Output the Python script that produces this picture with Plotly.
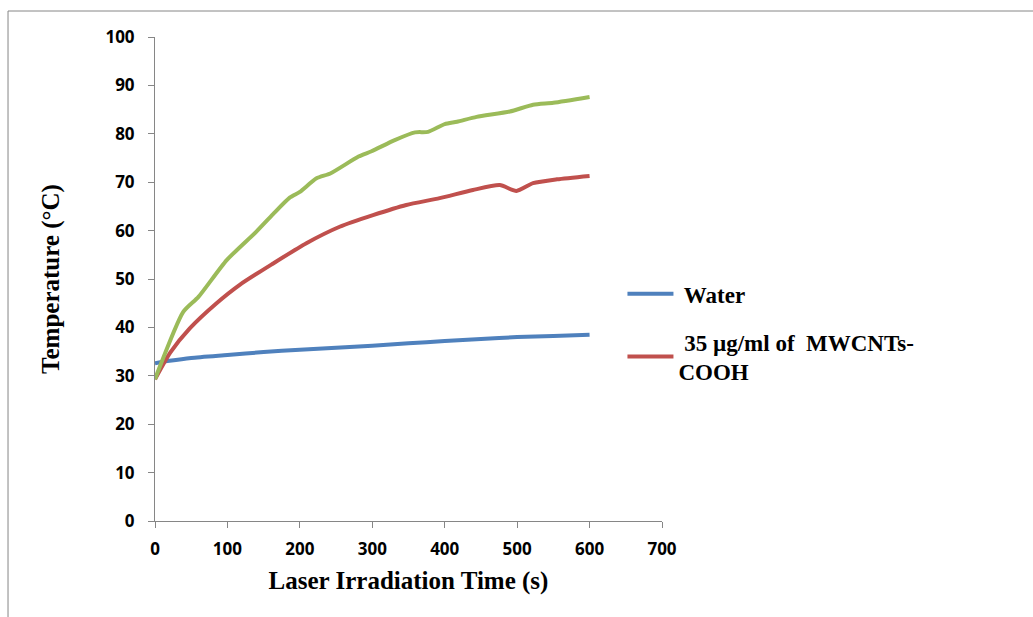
import plotly.graph_objects as go

# Time (s)
time_water = [0, 20, 50, 100, 150, 200, 250, 300, 350, 400, 450, 500, 550, 600]
temp_water = [32.6, 33.1, 33.7, 34.3, 34.9, 35.4, 35.8, 36.2, 36.7, 37.2, 37.6, 38.0, 38.2, 38.5]

time_mw = [0, 21, 48, 85, 117, 163, 209, 255, 301, 347, 393, 439, 476, 499, 522, 555, 600]
temp_mw = [29.3, 34.8, 39.8, 45.0, 48.8, 53.2, 57.4, 60.8, 63.2, 65.3, 66.7, 68.4, 69.4, 68.2, 69.8, 70.6, 71.3]

time_g = [0, 39, 60, 99, 140, 163, 186, 200, 223, 242, 281, 299, 331, 359, 377, 400, 417, 444, 490, 522, 550, 600]
temp_g = [29.3, 43.2, 46.3, 53.9, 59.8, 63.4, 66.8, 68.0, 70.8, 71.8, 75.3, 76.4, 78.7, 80.3, 80.4, 82.0, 82.5, 83.5, 84.6, 86.0, 86.4, 87.6]

x_ticks = [0, 100, 200, 300, 400, 500, 600, 700]
y_ticks = [0, 10, 20, 30, 40, 50, 60, 70, 80, 90, 100]

fig = go.Figure()
fig.add_trace(go.Scatter(x=time_water, y=temp_water, mode="lines", name=" Water",
                         line=dict(color="#4F81BD", width=4, shape="spline", smoothing=0.6),
                         legendgroup="a"))
fig.add_trace(go.Scatter(x=time_mw, y=temp_mw, mode="lines", name=" 35 µg/ml of&nbsp; MWCNTs-<br>COOH",
                         line=dict(color="#C0504D", width=4, shape="spline", smoothing=0.6),
                         legendgroup="b"))
fig.add_trace(go.Scatter(x=time_g, y=temp_g, mode="lines", name="green", showlegend=False,
                         line=dict(color="#9BBB59", width=4, shape="spline", smoothing=0.6)))

tick_font = dict(family="Open Sans", size=17, color="black", weight="bold")
title_font = dict(family="Liberation Serif", size=25, color="black", weight="bold")

fig.update_layout(
    width=1033, height=617,
    margin=dict(l=155, r=371, t=37, b=96),
    paper_bgcolor="white", plot_bgcolor="white",
    showlegend=True,
    legend=dict(x=0.922, y=0.389, xanchor="left", yanchor="middle",
                font=dict(family="Liberation Serif", size=23, color="black", weight="bold"),
                traceorder="grouped", tracegroupgap=15,
                bgcolor="rgba(0,0,0,0)", itemwidth=46),
    xaxis=dict(range=[0, 700], tickvals=x_ticks, ticktext=[str(v) for v in x_ticks],
               showgrid=False, zeroline=False, showline=True, linecolor="#868686", linewidth=1,
               ticks="outside", ticklen=6, tickcolor="#868686", ticklabelstandoff=7,
               tickfont=tick_font,
               title=dict(text="Laser Irradiation Time (s)", font=title_font, standoff=12)),
    yaxis=dict(range=[0, 100], tickvals=y_ticks, ticktext=[str(v) for v in y_ticks],
               showgrid=False, zeroline=False, showline=True, linecolor="#868686", linewidth=1,
               ticks="outside", ticklen=6, tickcolor="#868686", ticklabelstandoff=10,
               tickfont=tick_font,
               title=dict(text="Temperature (°C)", font=title_font, standoff=38)),
    shapes=[
        dict(type="line", xref="paper", yref="paper", x0=-0.2899, x1=1.75, y0=1.0537, y1=1.0537,
             line=dict(color="#868686", width=1)),
        dict(type="line", xref="paper", yref="paper", x0=-0.2899, x1=-0.2899, y0=1.0537, y1=-0.25,
             line=dict(color="#868686", width=1)),
    ],
)

fig.write_html("out.html")
